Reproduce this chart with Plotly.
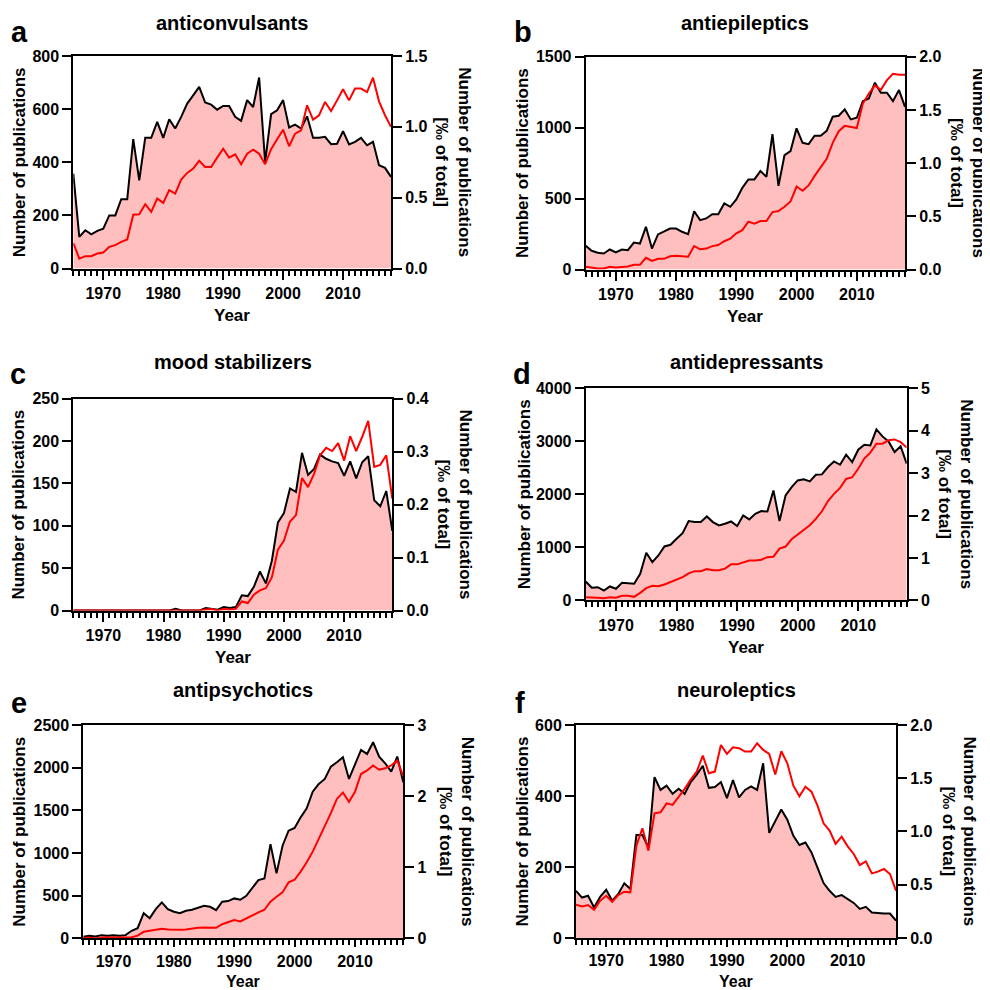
import plotly.graph_objects as go

years = list(range(1965, 2019))

titles = ["anticonvulsants", "antiepileptics", "mood stabilizers",
          "antidepressants", "antipsychotics", "neuroleptics"]
letters = ["a", "b", "c", "d", "e", "f"]

anticonvulsants_count = [357, 119, 144, 129, 142, 150,
                         200, 200, 261, 261, 487,
                         332, 492, 492, 552, 492,
                         562, 527, 571, 621, 652,
                         684, 625, 617, 598, 612,
                         612, 571, 556, 634, 608,
                         719, 401, 581, 596, 634,
                         531, 542, 527, 573, 492,
                         492, 496, 468, 470, 517,
                         467, 477, 492, 464, 477,
                         389, 379, 345]
anticonvulsants_permille = [0.18, 0.07, 0.087, 0.087, 0.106, 0.113,
                            0.153, 0.165, 0.188, 0.205, 0.38,
                            0.383, 0.454, 0.40, 0.494, 0.463,
                            0.553, 0.529, 0.628, 0.675, 0.705,
                            0.76, 0.717, 0.717, 0.783, 0.846,
                            0.783, 0.806, 0.736, 0.811, 0.839,
                            0.811, 0.736, 0.842, 0.912, 0.98,
                            0.863, 0.952, 0.976, 1.152, 1.051,
                            1.082, 1.176, 1.112, 1.187, 1.265,
                            1.187, 1.27, 1.27, 1.246, 1.347,
                            1.18, 1.082, 1.0]

antiepileptics_count = [167, 132, 118, 113, 141, 120,
                        141, 136, 190, 183, 301,
                        148, 247, 266, 289, 289,
                        266, 249, 411, 348, 360,
                        390, 390, 466, 442, 494,
                        576, 635, 635, 694, 654,
                        955, 590, 806, 835, 995,
                        893, 884, 943, 943, 978,
                        1077, 1084, 1129, 1058, 1070,
                        1187, 1206, 1317, 1246, 1246,
                        1187, 1265, 1147]
antiepileptics_permille = [0.025, 0.016, 0.01, 0.01, 0.025, 0.019,
                           0.025, 0.028, 0.044, 0.044, 0.11,
                           0.08, 0.10, 0.10, 0.125, 0.13,
                           0.125, 0.12, 0.22, 0.19, 0.197,
                           0.22, 0.23, 0.266, 0.29, 0.34,
                           0.37, 0.45, 0.43, 0.455, 0.455,
                           0.54, 0.55, 0.59, 0.64, 0.78,
                           0.74, 0.79, 0.88, 0.965, 1.04,
                           1.19, 1.30, 1.35, 1.34, 1.33,
                           1.56, 1.655, 1.73, 1.69, 1.78,
                           1.84, 1.83, 1.83]

mood_count = [0, 0, 0, 0, 0, 0, 0, 0, 0, 0, 0, 0, 0, 0, 0, 0, 0,
              2, 0, 0, 0, 0,
              3, 2, 1, 4,
              3, 4, 18, 17, 28,
              46, 32, 59, 104, 115,
              144, 140, 186, 160, 167,
              184, 179, 176, 174, 159,
              176, 156, 175, 182, 130,
              123, 141, 94]
mood_permille = [0] * 22 + [0.002, 0.003, 0.0, 0.003,
                            0.002, 0.003, 0.017, 0.014, 0.03,
                            0.038, 0.042, 0.063, 0.115, 0.132,
                            0.168, 0.18, 0.25, 0.233, 0.258,
                            0.293, 0.307, 0.301, 0.316, 0.283,
                            0.329, 0.301, 0.328, 0.358, 0.271,
                            0.275, 0.293, 0.211]

antidepressants_count = [358, 239, 251, 188, 264, 220,
                         333, 327, 314, 502, 898,
                         722, 848, 1017, 1049, 1162,
                         1268, 1494, 1476, 1476, 1582,
                         1476, 1413, 1444, 1488, 1400,
                         1601, 1526, 1633, 1683, 1677,
                         2072, 1494, 1978, 2135, 2261,
                         2280, 2242, 2367, 2374, 2512,
                         2618, 2555, 2744, 2606, 2838,
                         2932, 2920, 3221, 3089, 2995,
                         2794, 2901, 2575]
antidepressants_permille = [0.078, 0.063, 0.063, 0.055, 0.078, 0.063,
                            0.11, 0.11, 0.086, 0.18, 0.29,
                            0.345, 0.337, 0.377, 0.43, 0.49,
                            0.55, 0.64, 0.69, 0.69, 0.74,
                            0.71, 0.71, 0.75, 0.85, 0.85,
                            0.895, 0.94, 0.94, 0.96, 1.02,
                            1.03, 1.22, 1.27, 1.44, 1.55,
                            1.65, 1.77, 1.92, 2.10, 2.34,
                            2.51, 2.65, 2.86, 2.90, 3.10,
                            3.34, 3.48, 3.69, 3.69, 3.77,
                            3.79, 3.73, 3.6]

antipsychotics_count = [20, 31, 23, 39, 31, 39,
                        31, 39, 90, 121, 297,
                        238, 344, 422, 344, 313,
                        297, 324, 336, 355, 383,
                        371, 332, 430, 438, 469,
                        453, 500, 586, 684, 703,
                        1105, 762, 1086, 1262, 1293,
                        1418, 1523, 1719, 1809, 1867,
                        2012, 2063, 2121, 1867, 2031,
                        2207, 2160, 2297, 2129, 2051,
                        1953, 2129, 1828]
antipsychotics_permille = [0.005, 0.014, 0.0, 0.014, 0.014, 0.014,
                           0.014, 0.009, 0.019, 0.04, 0.094,
                           0.108, 0.117, 0.136, 0.127, 0.122,
                           0.122, 0.127, 0.14, 0.15, 0.155,
                           0.155, 0.15, 0.20, 0.234, 0.258,
                           0.24, 0.286, 0.32, 0.366, 0.403,
                           0.516, 0.586, 0.647, 0.788, 0.825,
                           0.94, 1.07, 1.22, 1.40, 1.57,
                           1.76, 1.96, 2.05, 1.92, 2.06,
                           2.31, 2.36, 2.43, 2.37, 2.39,
                           2.43, 2.50, 2.28]

neuroleptics_count = [133, 114, 119, 86, 116, 136,
                      105, 124, 154, 138, 290,
                      290, 255, 453, 417, 429,
                      406, 420, 406, 439, 460,
                      485, 423, 425, 439, 394,
                      445, 396, 417, 427, 417,
                      492, 296, 331, 362, 333,
                      288, 262, 269, 241, 199,
                      155, 133, 116, 121, 110,
                      99, 82, 88, 72, 70,
                      69, 69, 49]
neuroleptics_permille = [0.313, 0.297, 0.31, 0.266, 0.35, 0.397,
                         0.341, 0.404, 0.435, 0.429, 0.867,
                         1.03, 0.82, 1.17, 1.18, 1.264,
                         1.249, 1.32, 1.40, 1.487, 1.562,
                         1.712, 1.546, 1.562, 1.812, 1.728,
                         1.79, 1.781, 1.75, 1.75, 1.828,
                         1.765, 1.728, 1.534, 1.753, 1.64,
                         1.43, 1.33, 1.42, 1.374, 1.243,
                         1.077, 1.008, 0.883, 0.951, 0.861,
                         0.789, 0.685, 0.72, 0.607, 0.623,
                         0.648, 0.601, 0.444]

counts = [anticonvulsants_count, antiepileptics_count, mood_count,
          antidepressants_count, antipsychotics_count, neuroleptics_count]
permilles = [anticonvulsants_permille, antiepileptics_permille, mood_permille,
             antidepressants_permille, antipsychotics_permille, neuroleptics_permille]

left_ticks = [[0, 200, 400, 600, 800],
              [0, 500, 1000, 1500],
              [0, 50, 100, 150, 200, 250],
              [0, 1000, 2000, 3000, 4000],
              [0, 500, 1000, 1500, 2000, 2500],
              [0, 200, 400, 600]]
right_ticks = [[0, 0.5, 1.0, 1.5],
               [0, 0.5, 1.0, 1.5, 2.0],
               [0, 0.1, 0.2, 0.3, 0.4],
               [0, 1, 2, 3, 4, 5],
               [0, 1, 2, 3],
               [0, 0.5, 1.0, 1.5, 2.0]]
right_formats = [".1f", ".1f", ".1f", "d", "d", ".1f"]
year_ticks = [1970, 1980, 1990, 2000, 2010]

FIG = 990
# observed page mapping: page_x = 8 + fig_x ; page_y = 16 + 0.982 * fig_y
X_OFF, Y_OFF, Y_SCALE = 8.0, 16.0, 0.982

# plot boxes in target page pixels (left, right, top, bottom)
boxes = [(73.3, 391, 56, 268.3),
         (585.7, 905, 56.7, 269.3),
         (73.3, 392.3, 398.3, 610),
         (585.7, 906.7, 387.7, 600),
         (83.3, 403.3, 724.3, 937.7),
         (576, 896, 724.3, 937.3)]
title_y = [23, 23, 362, 362, 689, 689]
letter_pos = [(19, 31.5), (523, 31.5), (18, 374), (522, 374), (19, 702.5), (520, 702.5)]
left_title_x = [19, 522, 19, 524, 20, 522]
right_title_x1 = [465, 979, 465, 967, 467, 970]   # "Number of publications"
right_title_x2 = [442, 957, 443, 945, 445, 949]   # "[‰ of total]"
year_y = [315, 316, 657, 647, 981, 981]
year_size = [17, 17, 17, 17, 16, 16]
xtick_len = [9, 9, 9, 9, 7, 7]


def px(x):
    return (x - X_OFF) / FIG


def py(y):
    return 1 - ((y - Y_OFF) / Y_SCALE) / FIG


FONT = "Liberation Sans, Arial, sans-serif"
tickfont = dict(family=FONT, size=16, color="black", weight="bold")

fig = go.Figure()
layout = dict(width=FIG, height=FIG, margin=dict(l=0, r=0, t=0, b=0),
              paper_bgcolor="white", plot_bgcolor="rgba(0,0,0,0)",
              showlegend=False, font=dict(family=FONT, color="black"))
annotations = []


def ann(text, x, y, size, angle=0):
    return dict(text=f"<b>{text}</b>", x=px(x), y=py(y), xref="paper", yref="paper",
                showarrow=False, textangle=angle, xanchor="center", yanchor="middle",
                font=dict(family=FONT, size=size, color="black"))


for i in range(6):
    n = i + 1
    xl, xr, yt, yb = boxes[i]
    xid = "x" if n == 1 else f"x{n}"
    yid = "y" if n == 1 else f"y{n}"
    y2n = n + 6
    y2id = f"y{y2n}"
    xkey = "xaxis" if n == 1 else f"xaxis{n}"
    ykey = "yaxis" if n == 1 else f"yaxis{n}"
    y2key = f"yaxis{y2n}"

    fig.add_trace(go.Scatter(x=years, y=counts[i], mode="lines",
                             line=dict(color="black", width=2),
                             fill="tozeroy", fillcolor="#FFBFBF",
                             xaxis=xid, yaxis=yid, hoverinfo="skip"))
    fig.add_trace(go.Scatter(x=years, y=permilles[i], mode="lines",
                             line=dict(color="#FF0000", width=2),
                             xaxis=xid, yaxis=y2id, hoverinfo="skip"))

    layout[xkey] = dict(domain=[px(xl), px(xr)], anchor=yid, range=[1965, 2018],
                        tickvals=year_ticks, ticks="outside", ticklen=xtick_len[i],
                        tickwidth=2, tickcolor="black", showline=True, linewidth=2,
                        linecolor="black", mirror=True, showgrid=False, zeroline=False,
                        tickfont=tickfont,
                        minor=dict(ticks="outside", ticklen=5, tickwidth=2, tickcolor="black",
                                   dtick=1, tick0=1965, showgrid=False))
    lt = left_ticks[i]
    layout[ykey] = dict(domain=[py(yb), py(yt)], anchor=xid, range=[0, lt[-1]],
                        tickvals=lt, ticks="outside", ticklen=9, tickwidth=2,
                        tickcolor="black", showline=True, linewidth=2, linecolor="black",
                        showgrid=False, zeroline=False, tickfont=tickfont)
    rt = right_ticks[i]
    layout[y2key] = dict(overlaying=yid, anchor=xid, side="right", range=[0, rt[-1]],
                         tickvals=rt, tickformat=right_formats[i], ticks="outside",
                         ticklen=9, tickwidth=2, tickcolor="black", showline=True,
                         linewidth=2, linecolor="black", showgrid=False, zeroline=False,
                         tickfont=tickfont)

    xc = (xl + xr) / 2
    yc = (yt + yb) / 2
    annotations.append(ann(titles[i], xc, title_y[i], 20))
    lx, ly = letter_pos[i]
    annotations.append(ann(letters[i], lx, ly, 29))
    annotations.append(ann("Number of publications", left_title_x[i], yc, 17, -90))
    annotations.append(ann("Number of publications", right_title_x1[i], yc, 17, 90))
    annotations.append(ann("[‰ of total]", right_title_x2[i], yc, 17, 90))
    annotations.append(ann("Year", xc, year_y[i], year_size[i]))

layout["annotations"] = annotations
fig.update_layout(**layout)
fig.write_html("out.html")
